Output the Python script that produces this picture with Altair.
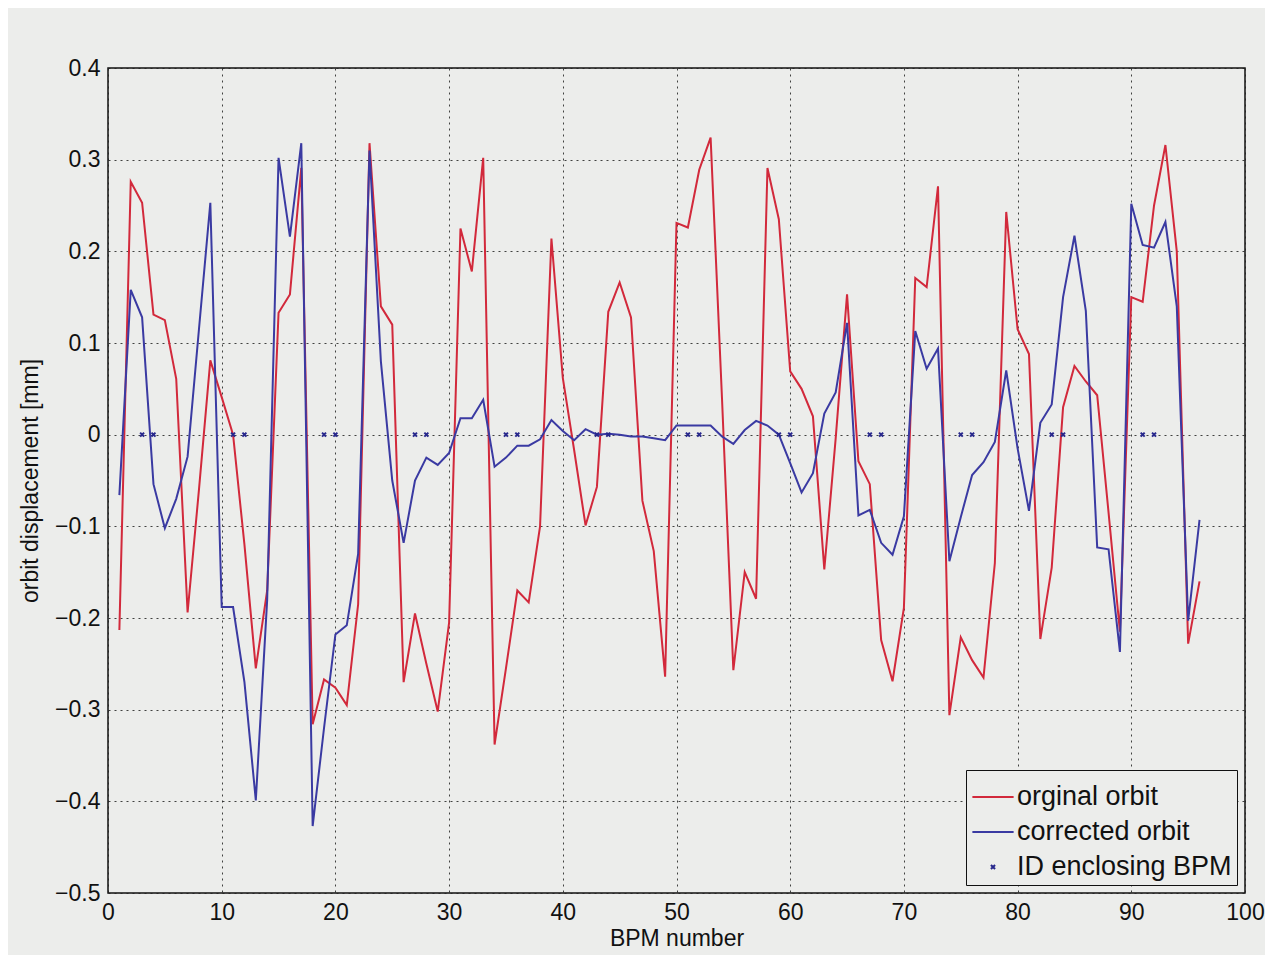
import altair as alt
import pandas as pd

# ---- data ----
bpm = list(range(1, 97))

original_orbit = [
    -0.213, 0.276, 0.253, 0.131, 0.125, 0.061, -0.194, -0.06, 0.081, 0.041,
    0.0, -0.12, -0.255, -0.17, 0.133, 0.153, 0.291, -0.316, -0.267, -0.276,
    -0.295, -0.185, 0.318, 0.14, 0.12, -0.27, -0.195, -0.25, -0.302, -0.205,
    0.225, 0.178, 0.302, -0.338, -0.255, -0.17, -0.183, -0.1, 0.214, 0.062,
    -0.017, -0.099, -0.057, 0.134, 0.166, 0.128, -0.072, -0.127, -0.264, 0.231,
    0.226, 0.289, 0.324, 0.04, -0.257, -0.15, -0.179, 0.291, 0.235, 0.069,
    0.05, 0.02, -0.147, -0.004, 0.153, -0.029, -0.054, -0.224, -0.269, -0.189,
    0.171, 0.161, 0.271, -0.306, -0.221, -0.246, -0.265, -0.14, 0.243, 0.115,
    0.088, -0.223, -0.145, 0.03, 0.075, 0.058, 0.043, -0.085, -0.215, 0.15,
    0.145, 0.25, 0.316, 0.2, -0.228, -0.16,
]

corrected_orbit = [
    -0.066, 0.158, 0.128, -0.054, -0.102, -0.07, -0.024, 0.115, 0.253, -0.188,
    -0.188, -0.27, -0.399, -0.18, 0.302, 0.216, 0.318, -0.427, -0.32, -0.218,
    -0.208, -0.13, 0.31, 0.08, -0.05, -0.118, -0.05, -0.025, -0.033, -0.02,
    0.018, 0.018, 0.038, -0.035, -0.025, -0.012, -0.012, -0.005, 0.016, 0.004,
    -0.006, 0.006, 0.0, 0.001, 0.0, -0.002, -0.002, -0.004, -0.006, 0.01,
    0.01, 0.01, 0.01, -0.002, -0.01, 0.005, 0.015, 0.01, 0.0, -0.031,
    -0.063, -0.042, 0.023, 0.046, 0.122, -0.088, -0.082, -0.118, -0.131, -0.089,
    0.113, 0.072, 0.094, -0.138, -0.09, -0.044, -0.03, -0.008, 0.07, -0.015,
    -0.083, 0.013, 0.033, 0.15, 0.217, 0.135, -0.123, -0.125, -0.237, 0.252,
    0.207, 0.204, 0.232, 0.14, -0.203, -0.093,
]

id_bpm = [3, 4, 11, 12, 19, 20, 27, 28, 35, 36, 43, 44,
          51, 52, 59, 60, 67, 68, 75, 76, 83, 84, 91, 92]
id_disp = [0.0] * len(id_bpm)

series_names = ["orginal orbit", "corrected orbit", "ID enclosing BPM"]
x_ticks = list(range(0, 101, 10))
y_ticks = [0.4, 0.3, 0.2, 0.1, 0.0, -0.1, -0.2, -0.3, -0.4, -0.5]

# ---- styling ----
RED = "#d2293b"
BLUE = "#3a3aa2"
MARK = "#28288c"
PAPER = "#ecedeb"
FONT = "Liberation Sans"
XPATH = "M-0.1,-0.1L0.1,0.1M0.1,-0.1L-0.1,0.1"

df_orig = pd.DataFrame({"bpm": bpm, "disp": original_orbit, "series": series_names[0]})
df_corr = pd.DataFrame({"bpm": bpm, "disp": corrected_orbit, "series": series_names[1]})
df_id = pd.DataFrame({"bpm": id_bpm, "disp": id_disp, "series": series_names[2]})

color_scale = alt.Scale(domain=series_names, range=[RED, BLUE, MARK])
shape_scale = alt.Scale(domain=series_names, range=["stroke", "stroke", XPATH])

x_enc = alt.X(
    "bpm:Q",
    scale=alt.Scale(domain=[0, 100], nice=False, zero=False),
    axis=alt.Axis(values=x_ticks, title="BPM number", format="d"),
)
y_enc = alt.Y(
    "disp:Q",
    scale=alt.Scale(domain=[-0.5, 0.4], nice=False, zero=False),
    axis=alt.Axis(
        values=y_ticks,
        title="orbit displacement [mm]",
        labelExpr="abs(datum.value) < 1e-9 ? '0' : replace(format(datum.value, '.1f'), '-', '\u2212')",
    ),
)

legend = alt.Legend(
    title=None,
    orient="bottom-right",
    offset=8,
    strokeColor="#111111",
    fillColor=PAPER,
    padding=5,
    symbolSize=1700,
    symbolStrokeWidth=2,
    labelFontSize=27,
    labelFont=FONT,
    labelColor="#111111",
    labelOffset=2,
    labelLimit=0,
    rowPadding=0,
)

line_orig = alt.Chart(df_orig).mark_line(strokeWidth=2).encode(
    x=x_enc, y=y_enc,
    color=alt.Color("series:N", scale=color_scale, legend=legend),
)
line_corr = alt.Chart(df_corr).mark_line(strokeWidth=2).encode(
    x=x_enc, y=y_enc,
    color=alt.Color("series:N", scale=color_scale, legend=legend),
)
id_pts = alt.Chart(df_id).mark_point(filled=False, strokeWidth=2, size=1600, opacity=1).encode(
    x=x_enc, y=y_enc,
    color=alt.Color("series:N", scale=color_scale, legend=legend),
    shape=alt.Shape("series:N", scale=shape_scale, legend=legend),
)

chart = (
    alt.layer(line_orig, line_corr, id_pts)
    .properties(
        width=1137,
        height=825,
        autosize=alt.AutoSizeParams(type="none"),
        padding={"left": 100, "top": 60, "right": 20, "bottom": 62},
        background=PAPER,
    )
    .configure_view(stroke="#111111", strokeWidth=1.5, fill=PAPER)
    .configure_axis(
        domain=False,
        ticks=False,
        grid=True,
        gridColor="#222222",
        gridDash=[2, 4],
        gridWidth=1,
        gridOpacity=0.85,
        labelFont=FONT,
        labelFontSize=23,
        labelColor="#111111",
        labelPadding=8,
        labelFlush=False,
        titleFont=FONT,
        titleFontSize=23,
        titleFontWeight="normal",
        titleColor="#111111",
    )
    .configure_axisX(titlePadding=3)
    .configure_axisY(titlePadding=12)
)

chart.save("out.html", embed_options={"renderer": "svg", "actions": False})
